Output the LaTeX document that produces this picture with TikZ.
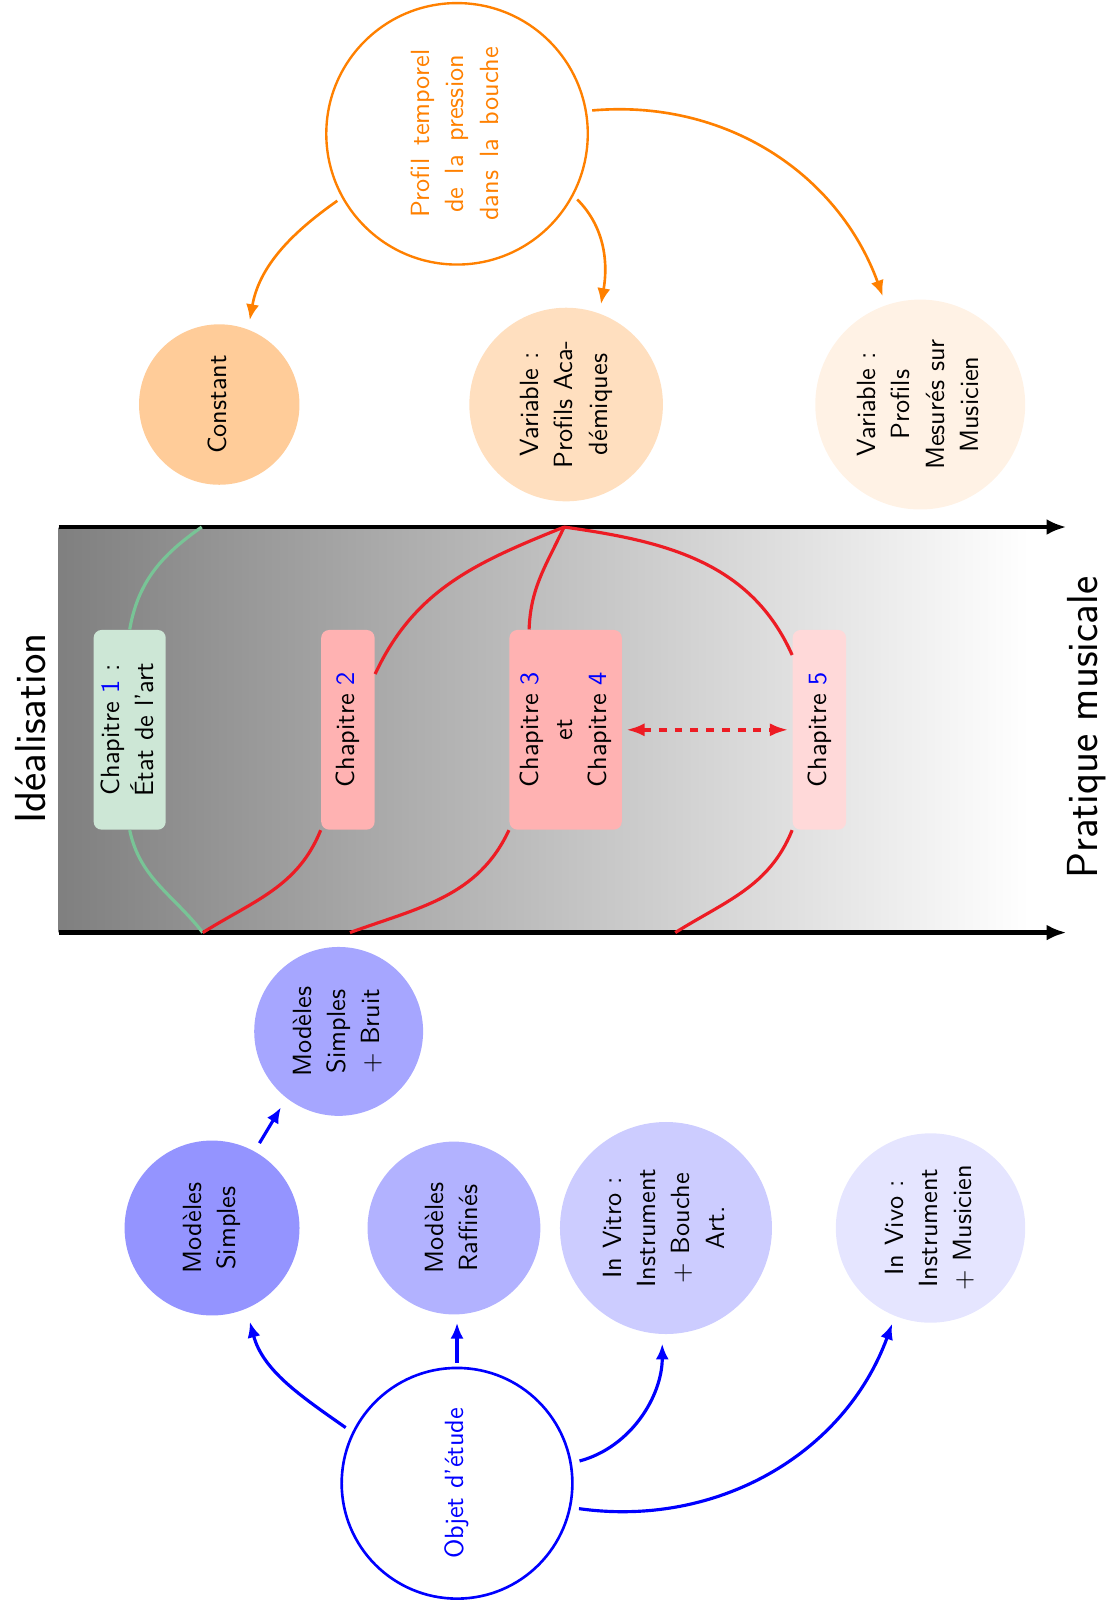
\documentclass[tikz,border=0pt]{standalone}
\usetikzlibrary{arrows.meta,calc}
\definecolor{myred}{RGB}{237,28,36}
\definecolor{mygreen}{RGB}{120,196,150}
\definecolor{mygreenfill}{RGB}{205,231,214}
\newcommand{\rtxt}[1]{\rotatebox{90}{\begin{tabular}{@{}c@{}}#1\end{tabular}}}
\begin{document}
\begin{tikzpicture}[x=0.3913pt, y=-0.3913pt,
  font=\sffamily\fontsize{10}{13}\selectfont,
  circ/.style={circle, inner sep=0pt, text=black},
  chbox/.style={rectangle, rounded corners=3pt, minimum height=75.9pt, inner sep=0pt},
  redl/.style={myred, line width=1.2pt},
  greenl/.style={mygreen, line width=1.2pt},
  bluearr/.style={blue, line width=1.2pt, -{Latex[length=6pt,width=5pt]}},
  orarr/.style={orange, line width=1pt, -{Latex[length=6pt,width=5pt]}},
  axis/.style={black, line width=1.6pt, -{Latex[length=7.5pt,width=6pt]}},
  biglabel/.style={rotate=90, font=\sffamily\fontsize{16.5}{19}\selectfont}]
\useasboundingbox (0,0) rectangle (1077,1568);

% orange part
\node[circ, draw=orange, line width=0.9pt, text=orange, minimum size=99.4pt] (prof) at (444,130)
  {\rotatebox{90}{\begin{tabular}{@{}c@{}}\makebox[64pt][s]{Profil temporel}\\\makebox[60pt][s]{de la pression}\\\makebox[66pt][s]{dans la bouche}\end{tabular}}};
\node[circ, fill=orange!40, minimum size=61pt] (const) at (213,393) {\rtxt{Constant}};
\node[circ, fill=orange!25, minimum size=73.6pt] (acad) at (550,393) {\rtxt{Variable :\\Profils Aca-\\démiques}};
\node[circ, fill=orange!10, minimum size=79.8pt] (mes) at (894,393) {\rtxt{Variable :\\Profils\\Mesurés sur\\Musicien}};

\draw[orarr, shorten <=2pt, shorten >=3.5pt] (prof.209) to[out=215,in=80] (const.69);
\draw[orarr, shorten <=2pt, shorten >=3.5pt] (prof.-28) to[out=-45,in=80] (acad.70);
\draw[orarr, shorten <=2pt, shorten >=3.5pt] (prof.10) to[out=5,in=110] (mes.109);

% middle band
\shade[left color=gray, right color=white] (57,512) rectangle (1000,906);
\coordinate (A1) at (57,512);
\coordinate (A2) at (1036,512);
\coordinate (B1s) at (57,906);
\coordinate (B2s) at (1036,906);
\draw[axis] (A1) -- (A2);
\draw[axis] (B1s) -- (B2s);

\node[biglabel] (ideal) at (30,708) {Idéalisation};
\node[biglabel] (prat) at (1056,707) {Pratique musicale};

\node[chbox, fill=mygreenfill, minimum width=27.4pt] (ch1) at (126,709) {\rtxt{Chapitre \textcolor{blue}{1} :\\État de l’art}};
\node[chbox, fill=red!30, minimum width=20.3pt] (ch2) at (338,709) {\rtxt{Chapitre \textcolor{blue}{2}}};
\node[chbox, fill=red!30, minimum width=42.7pt] (ch34) at (549.5,709) {\rtxt{Chapitre \textcolor{blue}{3}\\et\\Chapitre \textcolor{blue}{4}}};
\node[chbox, fill=red!15, minimum width=20.3pt] (ch5) at (796,709) {\rtxt{Chapitre \textcolor{blue}{5}}};

\coordinate (G1) at (196,512);
\coordinate (T) at (548,512);
\coordinate (B1) at (197,906);
\coordinate (B2) at (340,906);
\coordinate (B3) at (656,906);

\draw[greenl] (G1) to[out=215,in=80] (ch1.north);
\draw[greenl] (ch1.south) to[out=-78,in=128] (B1);
\draw[redl] (ch2.64) to[out=65,in=202] (T);
\draw[redl] (T) to[out=245,in=88] (ch34.110);
\draw[redl] (T) to[out=-8,in=114] (ch5.110);
\draw[redl] (ch2.south west) to[out=248,in=32] (B1);
\draw[redl] (ch34.south west) to[out=245,in=20] (B2);
\draw[redl] (ch5.south west) to[out=248,in=32] (B3);
\draw[myred, line width=1.3pt, dashed, {Latex[length=7pt,width=5pt]}-{Latex[length=7pt,width=5pt]}, shorten <=1.5pt, shorten >=1.5pt] (ch34.east) -- (ch5.west);

% blue part
\node[circ, fill=blue!42, minimum size=66.5pt] (simp) at (206,1193) {\rtxt{Modèles\\Simples}};
\node[circ, fill=blue!35, minimum size=64.2pt] (bruit) at (329,1002) {\rtxt{Modèles\\Simples\\$+$ Bruit}};
\node[circ, fill=blue!30, minimum size=65.7pt] (raff) at (441,1193) {\rtxt{Modèles\\Raffinés}};
\node[circ, fill=blue!20, minimum size=80.6pt] (vitro) at (647,1193) {\rtxt{In Vitro :\\Instrument\\$+$ Bouche\\Art.}};
\node[circ, fill=blue!10, minimum size=72pt] (vivo) at (904,1193) {\rtxt{In Vivo :\\Instrument\\$+$ Musicien}};
\node[circ, draw=blue, line width=1pt, text=blue, minimum size=87.7pt] (obj) at (444,1441) {\rtxt{Objet d’étude}};

\draw[bluearr, shorten <=3pt, shorten >=5pt] (obj.154) to[out=145,in=285] (simp.293);
\draw[bluearr, shorten <=1.5pt, shorten >=3pt] (obj.north) -- (obj.north |- raff.south);
\draw[bluearr, shorten <=3pt, shorten >=3.5pt] (obj.10) to[out=15,in=270] (vitro.268);
\draw[bluearr, shorten <=3pt, shorten >=3pt] (obj.-12) to[out=-8,in=250] (vivo.248);
\draw[bluearr, shorten <=3.5pt, shorten >=4pt] (simp.61.5) -- (bruit.232);
\end{tikzpicture}
\end{document}
